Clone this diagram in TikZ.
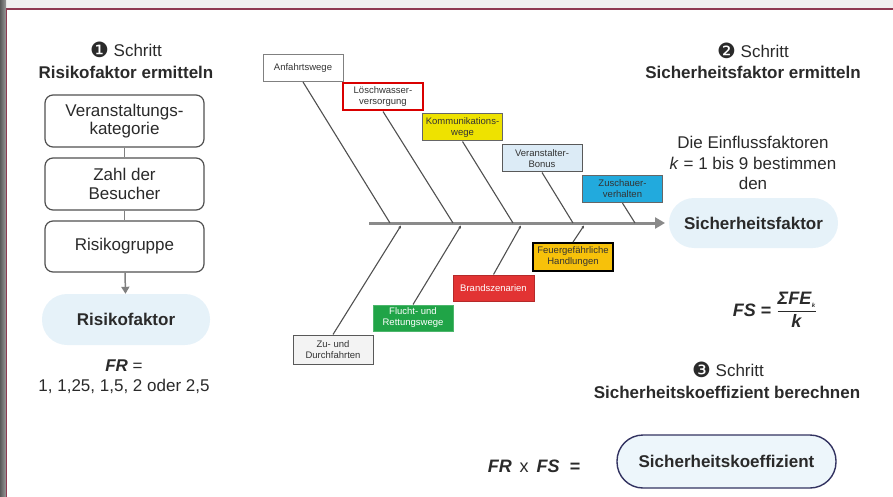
\documentclass[tikz,border=0pt]{standalone}
\usepackage{amsmath}
\usepackage{fontspec}
\setmainfont{Liberation Sans}
\newfontfamily\symfont{DejaVu Sans}
\usetikzlibrary{arrows.meta}

\definecolor{framered}{HTML}{8E3A52}
\definecolor{pillblue}{HTML}{E6F2F9}
\definecolor{bonegray}{HTML}{505050}
\definecolor{spinegray}{HTML}{8A8A8A}
\definecolor{komgelb}{HTML}{EEE200}
\definecolor{bonusblau}{HTML}{DCEBF6}
\definecolor{zuschcyan}{HTML}{22AADD}
\definecolor{fluchtgruen}{HTML}{20A447}
\definecolor{brandrot}{HTML}{E23333}
\definecolor{feuergelb}{HTML}{F7C10A}
\definecolor{zugrau}{HTML}{F3F3F3}
\definecolor{textgrau}{HTML}{2A2A2A}

\newcommand{\stepnum}[1]{{\symfont\fontsize{21}{19}\selectfont\raisebox{-1.5pt}{#1}}}

\tikzset{
  flowbox/.style={draw=bonegray, line width=1.2pt, rounded corners=8pt, align=center,
    minimum width=159pt, minimum height=52pt, inner sep=2pt, font=\fontsize{17}{18.5}\selectfont},
  pill/.style={fill=pillblue, rounded corners=25pt, minimum height=51pt, inner sep=2pt,
    font=\fontsize{17}{19}\selectfont\bfseries},
  label/.style={draw=bonegray, line width=1pt, align=center, minimum width=80pt,
    minimum height=27pt, inner sep=1pt, font=\fontsize{9.5}{11}\selectfont, text=black!80},
  bone/.style={draw=bonegray, line width=1.1pt},
  conn/.style={draw=gray, line width=1.5pt}
}

\begin{document}
\begin{tikzpicture}[x=1pt, y=-1pt, >=Stealth, font=\fontsize{17}{19}\selectfont, text=textgrau]
	\useasboundingbox (0,0) rectangle (893,497);
	% frame
	\fill[black!6] (0,0) rectangle (893,8);
	\shade[left color=black!65, right color=black!40] (0,0) rectangle (6,497);
	\draw[framered, line width=1.3pt] (6.5,497) -- (6.5,9) -- (893,9);
	
	% step 1
	\node (s1) at (126,50) {\stepnum{❶} Schritt};
	\node[font=\fontsize{17}{19}\selectfont\bfseries] (t1) at (126,72) {Risikofaktor ermitteln};
	\node[flowbox] (vk) at (124.5,121) {Veranstaltungs-\\kategorie};
	\node[flowbox] (zb) at (124.5,184) {Zahl der\\Besucher};
	\node[flowbox, minimum height=51pt] (rg) at (124.5,246.5) {Risikogruppe};
	\node[pill, minimum width=168pt] (rf) at (126,319.5) {Risikofaktor};
	\draw[conn] (vk) -- (zb);
	\draw[conn] (zb) -- (rg);
	\draw[conn, -{Triangle[length=7pt,width=8pt]}] (rg) -- (rf);
	\node (fr) at (124,366) {\textbf{\textit{FR}} =};
	\node (frw) at (124,386) {1, 1,25, 1,5, 2 oder 2,5};
	
	% fishbone
	\coordinate (sp0) at (369,223);
	\coordinate (sp1) at (665,223);
	\draw[spinegray, line width=3pt, -{Triangle[length=10pt,width=11pt]}] (sp0) -- (sp1);
	
	\node[label, draw=gray] (anf) at (303,68) {Anfahrtswege};
	\node[label, draw=red!85!black, line width=2pt] (lw) at (383,97) {Löschwasser-\\versorgung};
	\node[label, fill=komgelb, draw=black!60] (kw) at (462.5,127.5) {Kommunikations-\\wege};
	\node[label, fill=bonusblau, draw=black!65] (vb) at (542,158.5) {Veranstalter-\\Bonus};
	\node[label, fill=zuschcyan, draw=black!60, line width=1.3pt] (zv) at (622.5,189) {Zuschauer-\\verhalten};
	\coordinate (o1) at (390,223);
	\coordinate (o2) at (453,223);
	\coordinate (o3) at (513,223);
	\coordinate (o4) at (573,223);
	\coordinate (o5) at (635,223);
	\draw[bone] (anf.south) -- (o1);
	\draw[bone] (lw.south) -- (o2);
	\draw[bone] (kw.south) -- (o3);
	\draw[bone] (vb.south) -- (o4);
	\draw[bone] (zv.south) -- (o5);
	
	\node[label, fill=zugrau, draw=black!65, minimum height=29pt] (zd) at (333,349.5) {Zu- und\\Durchfahrten};
	\node[label, fill=fluchtgruen, draw=fluchtgruen!80!white, text=white, minimum height=26pt] (fl) at (413,318) {Flucht- und\\Rettungswege};
	\node[label, fill=brandrot, draw=brandrot!80!black, text=white, minimum height=26pt, minimum width=81pt] (bs) at (493.5,288) {Brandszenarien};
	\node[label, fill=feuergelb, draw=black, line width=2pt, minimum height=28pt] (fh) at (573,257) {Feuergefährliche\\Handlungen};
	\coordinate (u1) at (401,225.5);
	\coordinate (u2) at (461,225.5);
	\coordinate (u3) at (521,225.5);
	\coordinate (u4) at (584,225.5);
	\draw[bone, -{Stealth[length=3pt,width=3pt]}] (zd.north) -- (u1);
	\draw[bone, -{Stealth[length=3pt,width=3pt]}] (fl.north) -- (u2);
	\draw[bone, -{Stealth[length=3pt,width=3pt]}] (bs.north) -- (u3);
	\draw[bone, -{Stealth[length=3pt,width=3pt]}] (fh.north) -- (u4);
	
	% step 2
	\node (s2) at (753,51) {\stepnum{❷} Schritt};
	\node[font=\fontsize{17}{19}\selectfont\bfseries] (t2) at (753,72) {Sicherheitsfaktor ermitteln};
	\node[align=center, font=\fontsize{17}{20.5}\selectfont] (ef) at (753,163) {Die Einflussfaktoren\\\textit{k} = 1 bis 9 bestimmen\\den};
	\node[pill, minimum width=169pt, minimum height=50pt] (sf) at (753.5,223) {Sicherheitsfaktor};
	\node[font=\fontsize{18}{20}\selectfont] (fs) at (775,310)
		{\textbf{\textit{FS}} \textbf{=} $\dfrac{\text{\textbf{\textit{ΣFE}}}_{\text{\fontsize{6}{6}\selectfont\textbf{\textit{k}}}}}{\text{\textbf{\textit{k}}}}$};
	
	% step 3
	\node (s3) at (728,370) {\stepnum{❸} Schritt};
	\node[font=\fontsize{17}{19}\selectfont\bfseries] (t3) at (727,392) {Sicherheitskoeffizient berechnen};
	\node[pill, fill=pillblue!70!white, draw=black!70!blue!60!gray, line width=1.4pt, rounded corners=26pt,
		minimum width=219pt, minimum height=53pt] (sk) at (726.5,461.5) {Sicherheitskoeffizient};
	\node[font=\fontsize{18}{20}\selectfont] (fx) at (534,466)
		{\textbf{\textit{FR}}\hspace{8pt}x\hspace{8pt}\textbf{\textit{FS}}\hspace{10pt}\textbf{=}};
\end{tikzpicture}
\end{document}
